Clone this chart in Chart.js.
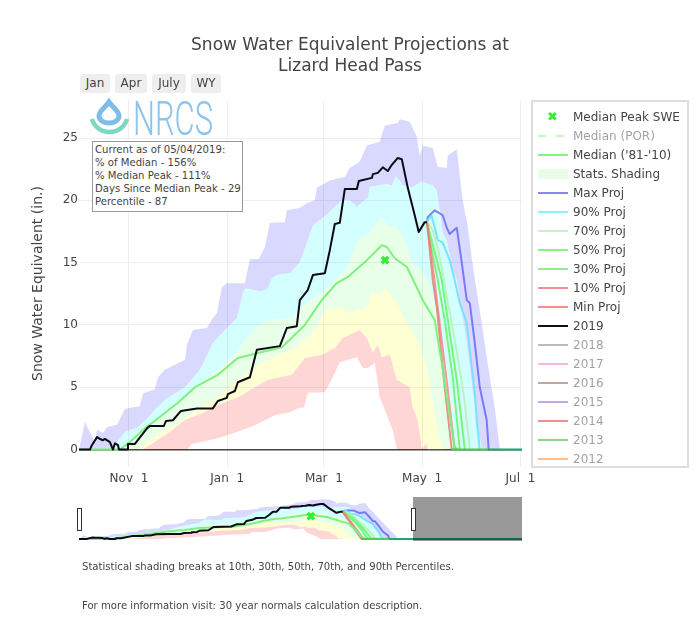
<!DOCTYPE html>
<html>
<head>
<meta charset="utf-8">
<title>Snow Water Equivalent Projections at Lizard Head Pass</title>
<script src="https://cdn.jsdelivr.net/npm/chart.js@4"></script>
<style>
  body { margin: 0; background: #fff; font-family: "DejaVu Sans", sans-serif; color: #444; }
  #page { position: relative; width: 700px; height: 622px; overflow: hidden; }
  #page > * { position: absolute; }
  #title { left: 0; width: 700px; top: 34px; text-align: center; font-size: 17px; line-height: 21px; }
  .btn { top: 74px; height: 19px; line-height: 19px; background: #eee; border-radius: 3px; text-align: center; font-size: 12px; }
  #note { left: 92px; top: 141px; width: 147px; height: 68px; border: 1px solid #999; background: #fff; font-size: 10.1px; line-height: 13px; padding: 1px 0 0 2px; white-space: nowrap; }
  #legend { left: 531px; top: 100px; width: 154px; height: 364px; border: 2px solid #ddd; font-size: 12px; }
  .row { position: absolute; left: 0; height: 19px; line-height: 19px; white-space: nowrap; }
  .row span { position: absolute; left: 40px; }
  .row i { position: absolute; left: 5px; width: 30px; top: 8px; height: 2px; }
  .foot { left: 82px; font-size: 10.1px; white-space: nowrap; }
  #mask { left: 413px; top: 497px; width: 109px; height: 44px; background: rgba(0,0,0,0.4); }
  .handle { top: 508px; width: 3px; height: 21px; background: #fff; border: 1px solid #333; }
</style>
</head>
<body>
<div id="page">
  <canvas id="myChart" width="700" height="622" style="left:0;top:0"></canvas>
  <canvas id="miniChart" width="443" height="44" style="left:79px;top:497px"></canvas>
  <div id="mask"></div>
  <div class="handle" style="left:77px"></div>
  <div class="handle" style="left:411px"></div>
  <div id="title">Snow Water Equivalent Projections at<br>Lizard Head Pass</div>
  <div class="btn" style="left:80px;width:30px">Jan</div>
  <div class="btn" style="left:115px;width:32px">Apr</div>
  <div class="btn" style="left:152px;width:34px">July</div>
  <div class="btn" style="left:191px;width:30px">WY</div>
  <svg style="left:88px;top:96px" width="130" height="44">
    <path d="M 21 6 C 25 12 31 15 31 20 A 10 7 0 0 1 11 20 C 11 15 17 12 21 6 Z" fill="none" stroke="#7dbde6" stroke-width="5"/>
    <path d="M 4 23 A 18 17 0 0 0 39 23" fill="none" stroke="#7dd7c3" stroke-width="4.5"/>
    <text x="45" y="39" font-family="Roboto" font-weight="300" font-size="49" fill="#8cc4ea" textLength="80" lengthAdjust="spacingAndGlyphs">NRCS</text>
  </svg>
  <div id="note">Current as of 05/04/2019:<br>% of Median - 156%<br>% Median Peak - 111%<br>Days Since Median Peak - 29<br>Percentile - 87</div>
  <div id="legend"></div>
  <div class="foot" style="top:561px">Statistical shading breaks at 10th, 30th, 50th, 70th, and 90th Percentiles.</div>
  <div class="foot" style="top:600px">For more information visit: 30 year normals calculation description.</div>
</div>
<script>
// x values are days since Oct 1 of the water year
const xTickDays = [31, 92, 152, 213, 274];
const xTickLabels = ["Nov  1", "Jan  1", "Mar  1", "May  1", "Jul  1"];
const yTicks = [0, 5, 10, 15, 20, 25];

// statistical shading edges
const maxBandDays = [0,3.7,9.9,11.2,14.9,17.4,23.6,28.5,37.8,39.7,47.1,49,53.3,65.8,67,70.7,79.4,83.1,85.6,88.7,91.8,103,106.1,111.7,115.4,118.5,127.8,129,137.1,142,146.4,147.6,155.7,165,168.1,174.3,178.7,186.7,189.8,197.9,199.1,205.3,209.7,211.5,213.4,219.6,222.7,228.3,228.9,234.5,238.2,241.3,243.8,246.3,250,255,258.1,261.2,261.8,364];
const maxBandVals = [0,2.2,0.6,1.6,1.3,1.8,2,3.25,3.5,4.5,4.85,5.8,6.4,7.2,8.4,9.6,9.75,10.55,10.95,13.05,13.35,13.35,15.3,15.3,16.25,18.2,18.25,19.2,19.4,19.8,20,21,21.6,21.9,22.6,23.1,24.4,24.7,26,26.2,26.5,26.3,25.1,23.6,24.4,24.2,22.7,22.6,23.6,24.1,20,17.9,15.4,13.2,10.15,5.8,3.4,0.1,0,0];

const band90Days = [0,20,28.5,36.6,42.2,47.1,53.3,65.8,75.1,83.1,98,101.7,103,113.5,117.2,119.7,123.4,130.9,137.1,142,145.2,151.4,163.2,168.1,172.5,179.3,180.5,191.1,194.2,196.7,201,206.6,212.8,219.6,222.1,223.9,225.8,228.3,232,234.5,240.7,244.4,246.9,250,250.5,364];
const band90Vals = [0,0,1.4,1.8,2.5,3.2,4,5,6.4,8.55,10.55,12.55,12.95,12.7,12.95,13.75,14.05,14.15,15.05,16.8,18,18.6,20,20,19.5,20.25,21.1,21.3,21.2,21.95,21.2,21.05,21.5,21.2,20.8,19.2,17.4,16.8,14.4,13.6,8.55,4.8,2.4,0.1,0,0];

const band70Days = [0,25.4,37.8,45.3,59.6,72,84.4,94.9,109.2,117.2,132.1,138.3,143.3,152.6,158.8,166.3,173.1,180.5,184.9,188,192.9,196,203.5,206.6,212.8,216.5,222.1,225.8,232,232.5,364];
const band70Vals = [0,0,1.4,1.8,3.7,5,6.2,7.4,9.75,10.4,10.55,11.4,12,12.8,13.6,14.65,16.8,17.4,18.2,18.65,17.8,18.1,16.6,15,14.4,13.6,11.4,6.15,0.1,0,0];

const band50Days = [0,36.6,49,59.6,70.1,80,88.7,98.6,111,123.4,132.1,140.2,147.6,152.6,163.2,168.1,179.3,181.8,186.7,189.8,197.3,203.5,210.3,215.9,220.8,225.8,226.5,364];
const band50Vals = [0,0,1.3,2,2.9,3.7,4.4,5.6,6.8,7.6,8,8.8,9.75,11.2,11.4,10.95,11.4,12.65,12.4,12.95,11.75,10.15,8.8,6.6,2.9,0.1,0,0];

const band30Days = [0,39.7,53.3,57.7,65.8,76.3,87.5,98.6,117.2,132.1,140.2,150.7,158.8,163.8,174.3,178.7,182.4,185.5,188,192.9,197.3,205.3,207.2,210.3,212.8,215.9,216.5,364];
const band30Vals = [0,0,1.15,1.55,2.4,2.9,3.65,4.2,5.6,6,7.35,7.6,8.15,8.95,9.6,8.95,7.8,8.4,7.4,7.6,5.6,5,3.4,2.35,0.1,0.5,0,0];

const band10Days = [0,67,70.1,86.2,101.1,109.2,121.6,130.9,137.1,139.6,142,152.6,157.6,161.9,172.5,176.2,179.3,183.6,186.7,194.8,197.3,364];
const band10Vals = [0,0,0.45,0.9,1.55,1.95,2.75,3,3.35,3.35,4.55,4.6,5.8,7,7.4,6.55,6.55,6.95,4.2,1.55,0,0];

// lines
const medianDays = [0,25.4,31.6,40.9,51.5,61.4,72,86.2,98.6,111,125.9,140.2,150.7,160,166.9,178.7,188,191.1,196,203.5,208.4,213.4,220.8,225.2,228.3,233.2,235];
const medianVals = [0,0,0.6,1.7,2.75,3.75,5,6,7.35,7.75,8.2,10,12,13.35,13.85,15.2,16.4,16.25,15.35,14.65,13.35,12,10.4,6.95,4.2,0.2,0];

const swe2019Days = [0,6.8,8,11.2,13,14.9,16.1,19.2,21.1,22.3,24.2,24.8,29.8,30.4,34.7,42.2,44,52.7,54,58.3,63.3,73.2,83.1,86.2,91.8,92.4,96.8,98.6,106.1,110.4,124.7,129,135.2,137.1,142,145.2,152.6,155.7,158.8,161.9,165,172.5,173.7,181.8,182.4,185.5,188.6,191.7,194.2,197.9,200.4,204.1,208.4,210.9,214.6,216];
const swe2019Vals = [0,0,0.35,1,0.85,0.75,0.85,0.6,0,0.5,0.35,0,0,0.45,0.45,1.7,1.9,1.9,2.3,2.35,3.1,3.3,3.3,3.9,4.15,4.45,4.7,5.4,5.8,8,8.3,9.75,9.9,12,12.8,14,14.15,16,18.1,18.2,20.9,20.9,21.55,21.8,22.1,22.2,22.65,22.35,22.85,23.4,23.3,21,18.8,17.45,18.25,18.25];

const projMaxDays = [216,216.5,220.8,225.8,228.3,230.1,234.5,237.6,240.7,242.6,245.7,248.8,253.1,254.3];
const projMaxVals = [18.25,18.65,19.2,18.8,17.8,17.3,17.8,15,12,11.75,8.55,5,2.35,0];
const proj90Days = [216,216.5,219,222.7,225.8,230.1,233.2,236.4,240.7,242.6,245.7,246.9,248.8];
const proj90Vals = [18.25,18.4,18.75,16.8,16.6,15.2,13.6,11.75,10.15,8,4.55,2.35,0];
const proj70Days = [216,219.6,222.7,225.8,228.3,231.4,236.4,239.5,242.6];
const proj70Vals = [18.25,17.6,16.25,14.15,12.25,10.15,6.4,3.75,0];
const proj50Days = [216,222.1,225.2,228.3,234.5,239.5];
const proj50Vals = [18.25,15.2,13.6,10.95,5.6,0];
const proj30Days = [216,219.6,222.7,227,232,236.4];
const proj30Vals = [18.25,15.6,13.6,10.4,5.8,0];
const proj10Days = [216,218.4,223.9,228.9,233.2];
const proj10Vals = [18.25,16,10.15,4.8,0];
const projMinDays = [216,216.5,219.6,222.1,227,231.4];
const projMinVals = [18.25,17.6,13.6,11.4,5,0];

// all the lines sit on zero once the snow is gone, the overlap reads green then teal
const zeroGreenDays = [231,254];
const zeroGreenVals = [0,0];
const zeroTealDays = [254,364];
const zeroTealVals = [0,0];

const peakDays = [190];
const peakVals = [15.2];

const legendNames = ["Median Peak SWE", "Median (POR)", "Median ('81-'10)", "Stats. Shading", "Max Proj", "90% Proj", "70% Proj", "50% Proj", "30% Proj", "10% Proj", "Min Proj", "2019", "2018", "2017", "2016", "2015", "2014", "2013", "2012"];
const legendColors = ["#33ee33", "#c4f9c4", "#86ef86", "#e8fce8", "#8888f0", "#88f4fb", "#c4f6c4", "#88f488", "#8cf28c", "#f59090", "#f59090", "#111111", "#bbbbbb", "#f6b7e0", "#c6a59e", "#c3a8e6", "#ee9090", "#90d090", "#fcc090"];
const legendDimmed = ["Median (POR)", "2018", "2017", "2016", "2015", "2014", "2013", "2012"];

const pairs = (days, vals) => days.map((d, i) => ({ x: d, y: vals[i] }));

const band = (days, vals, color) => ({
  data: pairs(days, vals), borderWidth: 0, pointRadius: 0, fill: color ? '+1' : false,
  backgroundColor: color, order: 50
});
const line = (days, vals, color, order, width) => ({
  data: pairs(days, vals), borderColor: color, borderWidth: width || 2, pointRadius: 0,
  fill: false, borderJoinStyle: 'round', order: order
});

const makeDatasets = () => [
  band(maxBandDays, maxBandVals, 'rgba(0,0,255,0.15)'),
  band(band90Days, band90Vals, 'rgba(0,255,255,0.17)'),
  band(band70Days, band70Vals, 'rgba(0,255,0,0.09)'),
  band(band50Days, band50Vals, 'rgba(255,255,0,0.17)'),
  band(band30Days, band30Vals, 'rgba(255,0,0,0.16)'),
  band(band10Days, band10Vals, null),
  line(projMaxDays, projMaxVals, 'rgba(90,90,245,0.75)', 9),
  line(proj90Days, proj90Vals, 'rgba(110,225,255,0.9)', 8),
  line(proj70Days, proj70Vals, 'rgba(180,245,180,0.9)', 7),
  line(proj50Days, proj50Vals, 'rgba(110,245,110,0.9)', 6),
  line(proj30Days, proj30Vals, 'rgba(110,245,110,0.9)', 5),
  line(proj10Days, proj10Vals, 'rgba(245,130,130,0.8)', 4),
  line(projMinDays, projMinVals, 'rgba(230,120,110,0.8)', 3),
  line(medianDays, medianVals, 'rgba(120,240,120,0.95)', 2),
  line(swe2019Days, swe2019Vals, '#0a0a14', 1),
  line(zeroGreenDays, zeroGreenVals, '#4cc850', 1),
  line(zeroTealDays, zeroTealVals, '#22a56e', 1),
  { data: pairs(peakDays, peakVals), showLine: false, pointStyle: 'crossRot', pointRadius: 4.5,
    pointBorderWidth: 3.5, pointBorderColor: '#33ee33', order: 0 }
];

Chart.defaults.font.family = '"DejaVu Sans", sans-serif';
Chart.defaults.color = '#444';
Chart.defaults.animation = false;

const ctx = document.getElementById('myChart');
const myChart = new Chart(ctx, {
  type: 'line',
  data: { datasets: makeDatasets() },
  options: {
    responsive: false,
    layout: { padding: { left: 0, right: 178, top: 100, bottom: 125 } },
    plugins: { legend: { display: false }, tooltip: { enabled: false } },
    scales: {
      x: {
        type: 'linear', min: 0, max: 275,
        afterBuildTicks: (s) => { s.ticks = xTickDays.map(v => ({ value: v })); },
        afterFit: (s) => { s.height = 30; },
        grid: { color: '#eee', drawTicks: false, drawOnChartArea: true },
        border: { display: false },
        ticks: { autoSkip: false, maxRotation: 0, padding: 5, font: { size: 12 },
          callback: (v) => xTickLabels[xTickDays.indexOf(v)] }
      },
      y: {
        type: 'linear', min: -1.4, max: 28.05,
        afterBuildTicks: (s) => { s.ticks = yTicks.map(v => ({ value: v })); },
        afterFit: (s) => { s.width = 79; },
        grid: { drawTicks: false, lineWidth: (c) => c.tick && c.tick.value === 0 ? 1.5 : 1,
          color: (c) => c.tick && c.tick.value === 0 ? '#444' : '#eee' },
        border: { display: false },
        ticks: { padding: 1, font: { size: 12 } },
        title: { display: true, text: 'Snow Water Equivalent (in.)', font: { size: 14 }, padding: { top: 30, bottom: 0 } }
      }
    }
  }
});

const miniChart = new Chart(document.getElementById('miniChart'), {
  type: 'line',
  data: { datasets: makeDatasets() },
  options: {
    responsive: false,
    layout: { padding: 0, autoPadding: false },
    plugins: { legend: { display: false }, tooltip: { enabled: false } },
    scales: {
      x: { type: 'linear', min: 0, max: 363, display: false },
      y: { type: 'linear', min: -1.4, max: 28.05, display: false }
    }
  }
});

// legend box, rows 19px apart
const legendBox = document.getElementById('legend');
legendNames.forEach((name, i) => {
  const row = document.createElement('div');
  row.className = 'row';
  row.style.top = (6 + i * 19) + 'px';
  const label = document.createElement('span');
  label.textContent = name;
  if (legendDimmed.includes(name)) label.style.opacity = 0.5;
  row.appendChild(label);
  const mark = document.createElement('i');
  if (i === 0) {
    mark.style.cssText = 'left:14px;width:12px;height:12px;top:3px;font-style:normal;font-size:13px;line-height:12px;font-weight:bold;color:' + legendColors[i];
    mark.textContent = '\u2716';
  } else if (name === 'Median (POR)') {
    mark.style.background = 'repeating-linear-gradient(90deg,' + legendColors[i] + ' 0 8px,transparent 8px 18px)';
  } else if (name === 'Stats. Shading') {
    mark.style.background = legendColors[i];
    mark.style.top = '4px';
    mark.style.height = '10px';
  } else {
    mark.style.background = legendColors[i];
  }
  row.appendChild(mark);
  legendBox.appendChild(row);
});
</script>
</body>
</html>
